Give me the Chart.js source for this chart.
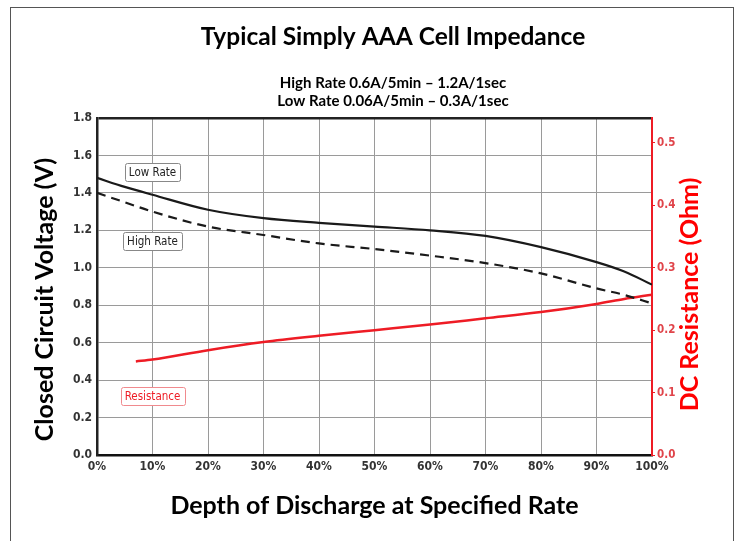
<!DOCTYPE html>
<html>
<head>
<meta charset="utf-8">
<title>Typical Simply AAA Cell Impedance</title>
<script src="https://cdn.jsdelivr.net/npm/chart.js@4.4.1/dist/chart.umd.min.js"></script>
<style>
  html, body { margin: 0; padding: 0; background: #fff; }
  canvas { display: block; }
</style>
</head>
<body>
<canvas id="chartPlaceholder" width="746" height="541"></canvas>
<script>
// depth of discharge (%) for the two voltage curves
const depth = [0, 5, 10, 20, 30, 40, 50, 60, 70, 80, 90, 95, 100];
const lowRate = [1.48, 1.432, 1.39, 1.31, 1.265, 1.24, 1.22, 1.2, 1.17, 1.11, 1.03, 0.98, 0.91];
const highRate = [1.4, 1.35, 1.3, 1.22, 1.175, 1.13, 1.1, 1.065, 1.025, 0.97, 0.89, 0.855, 0.81];

// resistance curve starts a bit later
const resDepth = [7, 10, 20, 30, 40, 50, 60, 70, 80, 90, 95, 100];
const resistance = [0.15, 0.153, 0.168, 0.181, 0.191, 0.2, 0.209, 0.219, 0.229, 0.242, 0.25, 0.257];

const TITLE = "Typical Simply AAA Cell Impedance";
const SUBTITLE = ["High Rate 0.6A/5min \u2013 1.2A/1sec", "Low Rate 0.06A/5min \u2013 0.3A/1sec"];
const X_TITLE = "Depth of Discharge at Specified Rate";
const Y_TITLE = "Closed Circuit Voltage (V)";
const Y2_TITLE = "DC Resistance (Ohm)";

const RED = "#ee1c25";
const TITLE_FONT = "Lato, 'Open Sans', sans-serif";
const TICK_FONT = "'Liberation Sans Narrow', 'DejaVu Sans Condensed', 'Liberation Sans', sans-serif";

function toPoints(xs, ys) {
  return xs.map((x, i) => ({ x: x, y: ys[i] }));
}

// frame round the whole picture
const framePlugin = {
  id: "frame",
  beforeDraw(chart) {
    const ctx = chart.ctx;
    ctx.save();
    ctx.strokeStyle = "#555";
    ctx.lineWidth = 1;
    ctx.strokeRect(10.5, 7.5, 723, 560);
    ctx.restore();
  },
};

// vertical axis titles (both read bottom to top)
const sideTitles = {
  id: "sideTitles",
  afterDraw(chart) {
    const ctx = chart.ctx;
    const area = chart.chartArea;
    const mid = (area.top + area.bottom) / 2;
    ctx.save();
    ctx.textAlign = "center";
    ctx.textBaseline = "middle";
    ctx.font = "bold 25px " + TITLE_FONT;

    ctx.save();
    ctx.translate(45, mid + 13);
    ctx.rotate(-Math.PI / 2);
    ctx.fillStyle = "#000";
    ctx.fillText(Y_TITLE, 0, 0);
    ctx.restore();

    ctx.save();
    ctx.translate(chart.width - 56, mid + 8);
    ctx.rotate(-Math.PI / 2);
    ctx.fillStyle = "#ff0000";
    ctx.fillText(Y2_TITLE, 0, 0);
    ctx.restore();

    ctx.restore();
  },
};

// small boxed curve names placed in data units
const noteBoxes = {
  id: "noteBoxes",
  afterDatasetsDraw(chart, args, opts) {
    const ctx = chart.ctx;
    const xs = chart.scales.x;
    const ys = chart.scales.y;
    ctx.save();
    ctx.font = "11.5px " + TICK_FONT;
    ctx.textAlign = "center";
    ctx.textBaseline = "middle";
    opts.items.forEach((item) => {
      const cx = xs.getPixelForValue(item.x);
      const cy = ys.getPixelForValue(item.y);
      const w = ctx.measureText(item.text).width + 8;
      const h = 18;
      ctx.fillStyle = "#fff";
      ctx.strokeStyle = item.border;
      ctx.lineWidth = 1;
      ctx.beginPath();
      ctx.roundRect(Math.round(cx - w / 2) + 0.5, Math.round(cy - h / 2) + 0.5, Math.round(w), h, 2);
      ctx.fill();
      ctx.stroke();
      ctx.fillStyle = item.color;
      ctx.fillText(item.text, cx, cy + 1);
    });
    ctx.restore();
  },
};

const ctx = document.getElementById("chartPlaceholder").getContext("2d");
window.myChart = new Chart(ctx, {
  type: "line",
  data: {
    datasets: [
      {
        label: "Low Rate",
        data: toPoints(depth, lowRate),
        borderColor: "#1a1a1a",
        borderWidth: 2.2,
        pointRadius: 0,
        cubicInterpolationMode: "monotone",
        yAxisID: "y",
      },
      {
        label: "High Rate",
        data: toPoints(depth, highRate),
        borderColor: "#1a1a1a",
        borderWidth: 2.2,
        borderDash: [9, 6],
        pointRadius: 0,
        cubicInterpolationMode: "monotone",
        yAxisID: "y",
      },
      {
        label: "Resistance",
        data: toPoints(resDepth, resistance),
        borderColor: RED,
        borderWidth: 2.5,
        pointRadius: 0,
        cubicInterpolationMode: "monotone",
        yAxisID: "y2",
      },
    ],
  },
  options: {
    responsive: false,
    animation: false,
    devicePixelRatio: 1,
    layout: {
      padding: { left: 40, right: 0, top: 0, bottom: 0 },
    },
    scales: {
      x: {
        type: "linear",
        min: 0,
        max: 100,
        border: { color: "#111", width: 2.5 },
        grid: { color: "#9a9a9a", lineWidth: 1, drawTicks: false },
        ticks: {
          stepSize: 10,
          padding: 5,
          color: "#333",
          font: { family: TICK_FONT, size: 12, weight: "bold" },
          callback: (v) => v + "%",
        },
        title: {
          display: true,
          text: X_TITLE,
          color: "#000",
          font: { family: TITLE_FONT, size: 25, weight: "bold" },
          padding: { top: 0, bottom: 20 },
        },
        afterFit(scale) {
          scale.height = 86;
        },
      },
      y: {
        position: "left",
        min: 0,
        max: 1.8,
        border: { color: "#222", width: 2.5 },
        grid: {
          drawTicks: false,
          color: (c) => (c.tick && c.tick.value >= 1.8 ? "#222" : "#9a9a9a"),
          lineWidth: (c) => (c.tick && c.tick.value >= 1.8 ? 2.5 : 1),
        },
        ticks: {
          stepSize: 0.2,
          padding: 5,
          color: "#333",
          font: { family: TICK_FONT, size: 12, weight: "bold" },
          callback: (v) => v.toFixed(1),
        },
        afterFit(scale) {
          scale.width = 57;
        },
      },
      y2: {
        position: "right",
        min: 0,
        max: 0.54,
        border: { color: RED, width: 2 },
        grid: { drawOnChartArea: false, drawTicks: true, tickLength: 3, color: RED },
        ticks: {
          stepSize: 0.1,
          padding: 2,
          color: "#e0444a",
          font: { family: TICK_FONT, size: 11.5, weight: "bold" },
          callback: (v) => v.toFixed(1),
        },
        afterBuildTicks(scale) {
          scale.ticks = scale.ticks.filter((t) => t.value <= 0.5001);
        },
        afterFit(scale) {
          scale.width = 94;
        },
      },
    },
    plugins: {
      legend: { display: false },
      tooltip: { enabled: false },
      title: {
        display: true,
        text: TITLE,
        color: "#000",
        font: { family: TITLE_FONT, size: 24.5, weight: "bold" },
        padding: { top: 22, bottom: 10 },
      },
      subtitle: {
        display: true,
        text: SUBTITLE,
        color: "#000",
        font: { family: TITLE_FONT, size: 15, weight: "bold", lineHeight: 1.2 },
        padding: { top: 12.6, bottom: 8 },
      },
      noteBoxes: {
        items: [
          { text: "Low Rate", x: 10, y: 1.51, color: "#222", border: "#888" },
          { text: "High Rate", x: 10, y: 1.145, color: "#222", border: "#888" },
          { text: "Resistance", x: 10, y: 0.315, color: RED, border: "#f08a8e" },
        ],
      },
    },
  },
  plugins: [framePlugin, sideTitles, noteBoxes],
});
</script>
</body>
</html>
